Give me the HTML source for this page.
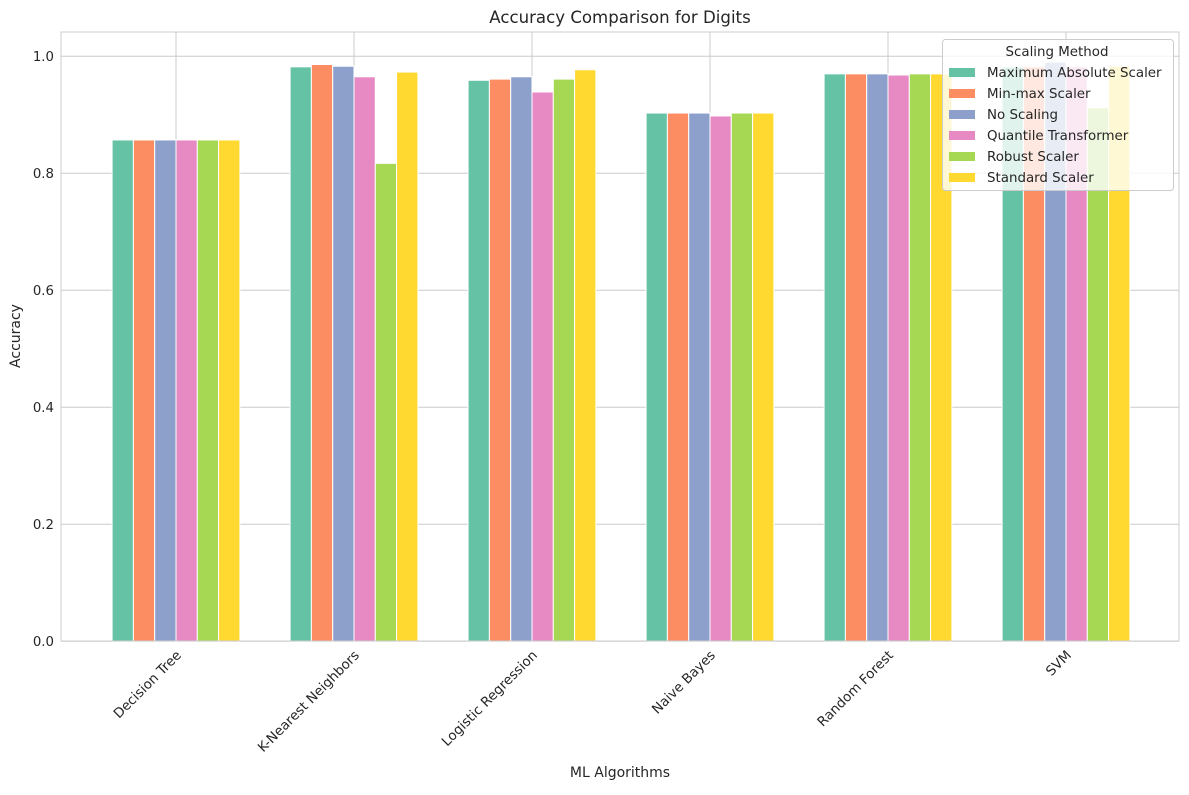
<!DOCTYPE html>
<html><head><meta charset="utf-8"><style>
body{margin:0;background:#fff;font-family:"Liberation Sans","DejaVu Sans",sans-serif}
svg text{font-family:"DejaVu Sans","Liberation Sans",sans-serif;fill:#262626}
</style></head><body>
<svg id="c" width="1189" height="790"></svg>
<script>
const categories=["Decision Tree","K-Nearest Neighbors","Logistic Regression","Naive Bayes","Random Forest","SVM"];
const seriesNames=["Maximum Absolute Scaler","Min-max Scaler","No Scaling","Quantile Transformer","Robust Scaler","Standard Scaler"];
const maxAbs=[0.857,0.982,0.959,0.903,0.970,0.982];
const minMax=[0.857,0.986,0.961,0.903,0.970,0.982];
const noScale=[0.857,0.983,0.965,0.903,0.970,0.990];
const quantile=[0.857,0.965,0.939,0.898,0.968,0.982];
const robust=[0.857,0.817,0.961,0.903,0.970,0.912];
const standard=[0.857,0.973,0.977,0.903,0.970,0.983];
const yTicks=[0,0.2,0.4,0.6,0.8,1.0];
const colors=["#66c2a5","#fc8d62","#8da0cb","#e78ac3","#a6d854","#ffd92f"];
const series=[maxAbs,minMax,noScale,quantile,robust,standard];
const NS="http://www.w3.org/2000/svg";
const svg=document.getElementById('c');
const L=61,R=1179,T=32,B=641;
const y=v=>641.3-v*585;
const step=178;
const x=i=>176+i*step;
const bw=21.3;
function el(t,a,txt){const e=document.createElementNS(NS,t);for(const k in a)e.setAttribute(k,a[k]);if(txt!==undefined)e.textContent=txt;svg.appendChild(e);return e;}
yTicks.forEach(v=>{
 const g=el('line',{x1:L,x2:R,y1:y(v),y2:y(v),stroke:'#cccccc','stroke-width':1});
 
 
 const t=el('text',{x:L-7,y:y(v)+4.5,'text-anchor':'end','font-size':13.3},v.toFixed(1));
 
 
});
categories.forEach((c,i)=>{
 const g=el('line',{x1:x(i),x2:x(i),y1:T,y2:B,stroke:'#cccccc','stroke-width':1});
 
 
});
series.forEach((s,j)=>{
 s.forEach((v,i)=>{
  const bx=x(i)-3*bw+j*bw;
  const r=el('rect',{x:bx,y:y(v),width:bw,height:y(0)-y(v),fill:colors[j],stroke:'#fff','stroke-width':1});
  
  
 });
});
const fr=el('rect',{x:L,y:T,width:R-L,height:B-T,fill:'none',stroke:'#cccccc','stroke-width':1});


categories.forEach((c,i)=>{
 const t=el('text',{x:0,y:0,'text-anchor':'end','font-size':13.4,transform:`translate(${x(i)+6},${B+15}) rotate(-45)`},c);
 
 
});
let t;
t=el('text',{x:620,y:23,'text-anchor':'middle','font-size':16.6},'Accuracy Comparison for Digits');

t=el('text',{x:620,y:777,'text-anchor':'middle','font-size':14},'ML Algorithms');

t=el('text',{x:0,y:0,'text-anchor':'middle','font-size':14,transform:'translate(20,336) rotate(-90)'},'Accuracy');

const lg=el('rect',{x:942.5,y:39.5,width:231,height:151,rx:3,fill:'#fff','fill-opacity':0.8,stroke:'#cccccc'});

t=el('text',{x:1057,y:56,'text-anchor':'middle','font-size':13.4},'Scaling Method');

seriesNames.forEach((n,j)=>{
 const yy=72+j*21;
 const p=el('rect',{x:949,y:yy-4,width:26,height:9,fill:colors[j]});
 
 
 const tt=el('text',{x:987,y:yy+5,'font-size':13.4},n);
 
 
});
</script>
</body></html>
